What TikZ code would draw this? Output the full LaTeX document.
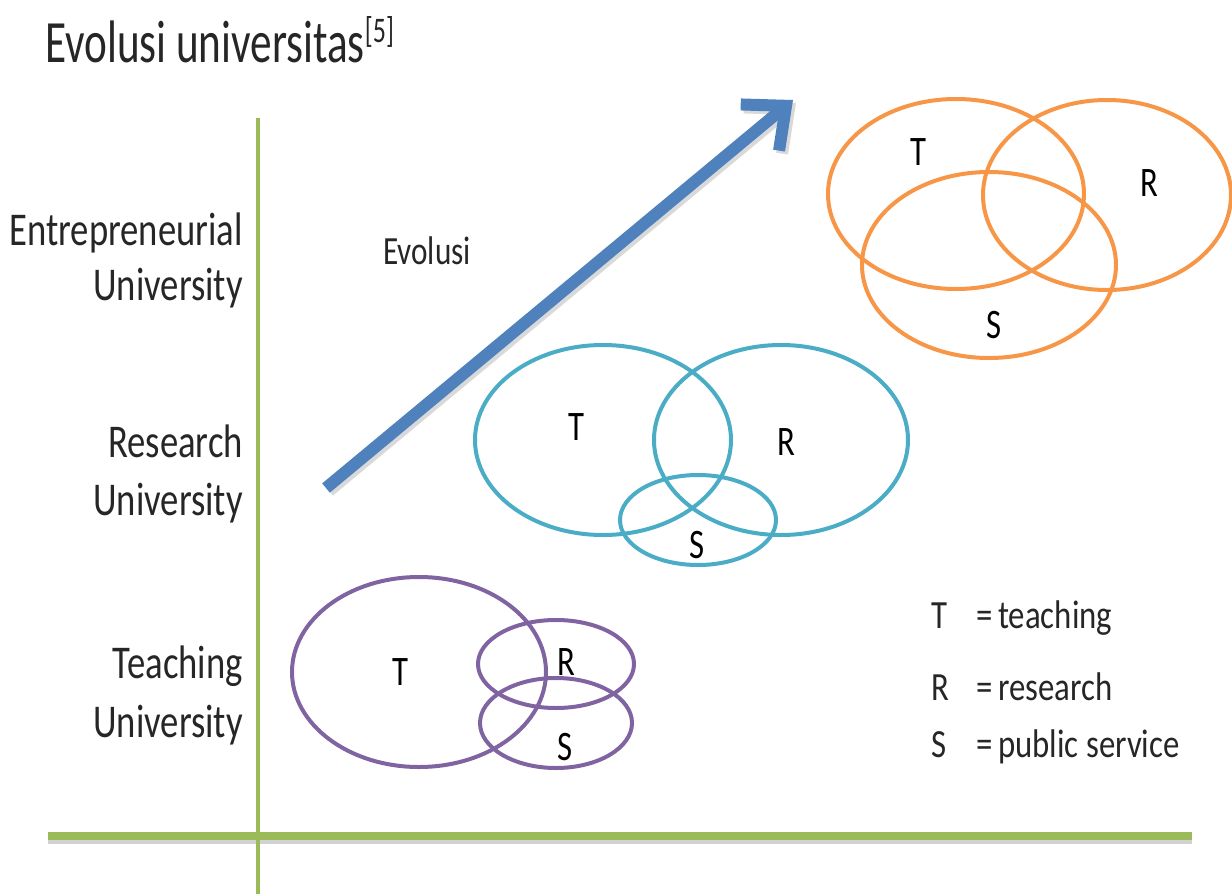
\documentclass[tikz,border=0pt]{standalone}
\usepackage{fontspec}
\setmainfont{Carlito}[FakeStretch=0.78]
\newfontfamily\titlefont{Carlito}[FakeStretch=0.72]
\newfontfamily\legendfont{Carlito}[FakeStretch=0.82]
\usetikzlibrary{arrows.meta,shapes.geometric}
\definecolor{axgreen}{HTML}{9BBB59}
\definecolor{evblue}{HTML}{4F81BD}
\definecolor{vcyan}{HTML}{4BACC6}
\definecolor{vorange}{HTML}{F79646}
\definecolor{vpurple}{HTML}{8064A2}
\tikzset{
  venn/.style={ellipse, draw, line width=4pt, inner sep=0pt, outer sep=0pt},
  lbl/.style={font=\fontsize{42}{50}\selectfont, inner sep=0pt, text=black},
  side/.style={font=\fontsize{47}{56}\selectfont, inner sep=0pt, anchor=base east, text=black!85},
  legend/.style={font=\legendfont\fontsize{40}{48}\selectfont, inner sep=0pt, anchor=base west, text=black!85},
  axis/.style={axgreen, line cap=butt},
  evtip/.style={-{Straight Barb[length=34pt,width=60pt]}},
}
\begin{document}
\begin{tikzpicture}[x=1pt,y=-1pt]
\useasboundingbox (0,0) rectangle (1232,894);
% title
\node[font=\titlefont\fontsize{60}{70}\selectfont, inner sep=0pt, anchor=base west, text=black!85] (title) at (45,62) {Evolusi universitas\raisebox{20pt}{\fontsize{36}{40}\selectfont[5]}};
% axes
\coordinate (vtop) at (258,118);
\coordinate (vbot) at (258,894);
\coordinate (hl) at (48,836);
\coordinate (hr) at (1192,836);
\draw[gray!35, line width=5pt] ([yshift=-5pt]hl) -- ([yshift=-5pt]hr);
\draw[axis, line width=4.5pt] (vtop) -- (vbot);
\draw[axis, line width=8pt] (hl) -- (hr);
% side labels
\node[side] (e1) at (243,245) {Entrepreneurial};
\node[side] (e2) at (243,300) {University};
\node[side] (r1) at (243,457) {Research};
\node[side] (r2) at (243,515) {University};
\node[side] (t1) at (243,678) {Teaching};
\node[side] (t2) at (243,737) {University};
% arrow
\coordinate (a0) at (326,488);
\coordinate (a1) at (793,100);
\draw[gray!30, line width=12pt, evtip] ([shift={(3pt,-3pt)}]a0) -- ([shift={(3pt,-3pt)}]a1);
\draw[evblue, line width=12pt, evtip] (a0) -- (a1);
\node[font=\fontsize{40}{48}\selectfont, inner sep=0pt, anchor=base west, text=black!85] (evo) at (383,264) {Evolusi};
% orange venn
\node[venn, draw=vorange, minimum width=256pt, minimum height=190pt] (oT) at (956,194) {};
\node[venn, draw=vorange, minimum width=248pt, minimum height=190pt] (oR) at (1107,195) {};
\node[venn, draw=vorange, minimum width=254pt, minimum height=186pt] (oS) at (989,265) {};
\node[lbl] (oTl) at (918,152) {T};
\node[lbl] (oRl) at (1149,183) {R};
\node[lbl] (oSl) at (994,325) {S};
% cyan venn
\node[venn, draw=vcyan, minimum width=256pt, minimum height=190pt] (cT) at (603,440) {};
\node[venn, draw=vcyan, minimum width=254pt, minimum height=190pt] (cR) at (781,440) {};
\node[venn, draw=vcyan, minimum width=156pt, minimum height=90pt] (cS) at (698,520) {};
\node[lbl] (cTl) at (576,427) {T};
\node[lbl] (cRl) at (786,442) {R};
\node[lbl] (cSl) at (697,545) {S};
% purple venn
\node[venn, draw=vpurple, minimum width=254pt, minimum height=190pt] (pT) at (419,672) {};
\node[venn, draw=vpurple, minimum width=156pt, minimum height=88pt] (pR) at (556,664) {};
\node[venn, draw=vpurple, minimum width=152pt, minimum height=90pt] (pS) at (556,723) {};
\node[lbl] (pTl) at (400,672) {T};
\node[lbl] (pRl) at (566,662) {R};
\node[lbl] (pSl) at (565,747) {S};
% legend
\node[legend] (lT) at (931,628) {T};
\node[legend] (lTe) at (976,628) {=};
\node[legend] (lTt) at (998,628) {teaching};
\node[legend] (lR) at (931,700) {R};
\node[legend] (lRe) at (976,700) {=};
\node[legend] (lRt) at (998,700) {research};
\node[legend] (lS) at (931,757) {S};
\node[legend] (lSe) at (976,757) {=};
\node[legend] (lSt) at (998,757) {public service};
\end{tikzpicture}
\end{document}
